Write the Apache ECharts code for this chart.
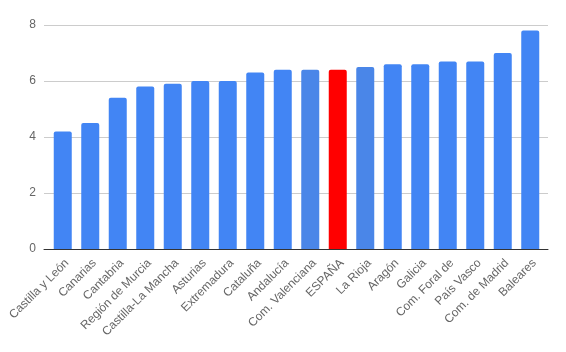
<!DOCTYPE html>
<html>
<head>
<meta charset="utf-8">
<script src="https://cdn.jsdelivr.net/npm/echarts@6/dist/echarts.min.js"></script>
<style>
  html, body { margin: 0; padding: 0; background: #fff; }
  #chart { width: 566px; height: 352px; }
</style>
</head>
<body>
<div id="chart"></div>
<script>
const regions = [
  "Castilla y León", "Canarias", "Cantabria", "Región de Murcia",
  "Castilla-La Mancha", "Asturias", "Extremadura", "Cataluña",
  "Andalucía", "Com. Valenciana", "ESPAÑA", "La Rioja", "Aragón",
  "Galicia", "Com. Foral de", "País Vasco", "Com. de Madrid", "Baleares"
];
const values = [4.2, 4.5, 5.4, 5.8, 5.9, 6.0, 6.0, 6.3, 6.4, 6.4, 6.4, 6.5, 6.6, 6.6, 6.7, 6.7, 7.0, 7.8];
const yTicks = [0, 2, 4, 6, 8];

// a few bars have their own colour in the original
const barColors = {
  "ESPAÑA": "#ff0000",
  "Com. Valenciana": "#4a86e8",
  "La Rioja": "#4a86e8"
};

const font = "Arial, Liberation Sans, sans-serif";
const chart = echarts.init(document.getElementById("chart"), null, { renderer: "canvas" });

// grid 0 carries the gridlines and baseline (a bit wider), grid 1 the bars
const option = {
  animation: false,
  grid: [
    { left: 44, right: 18, top: 25, bottom: 103 },
    { left: 49, right: 22, top: 25, bottom: 103 }
  ],
  xAxis: [
    {
      gridIndex: 0,
      type: "value",
      show: true,
      axisLabel: { show: false },
      axisTick: { show: false },
      splitLine: { show: false },
      axisLine: { show: true, onZero: false, lineStyle: { color: "#333", width: 1 } }
    },
    {
      gridIndex: 1,
      type: "category",
      data: regions,
      axisTick: { show: false },
      axisLine: { show: false },
      axisLabel: {
        interval: 0,
        rotate: 45,
        color: "#666",
        fontFamily: font,
        fontSize: 12,
        verticalAlign: "top",
        margin: 8
      }
    }
  ],
  yAxis: [
    {
      gridIndex: 0,
      type: "value",
      min: yTicks[0],
      max: yTicks[yTicks.length - 1],
      interval: 2,
      axisLine: { show: false },
      axisTick: { show: false },
      splitLine: { lineStyle: { color: "#ccc" } },
      axisLabel: { color: "#666", fontFamily: font, fontSize: 12, margin: 8 }
    },
    {
      gridIndex: 1,
      type: "value",
      min: yTicks[0],
      max: yTicks[yTicks.length - 1],
      show: false
    }
  ],
  series: [
    {
      type: "bar",
      xAxisIndex: 1,
      yAxisIndex: 1,
      barWidth: 18,
      z: 1,
      data: values.map((v, i) => ({
        value: v,
        itemStyle: { color: barColors[regions[i]] || "#4285f4" }
      })),
      itemStyle: { borderRadius: [2, 2, 0, 0] }
    }
  ]
};

chart.setOption(option);
</script>
</body>
</html>
